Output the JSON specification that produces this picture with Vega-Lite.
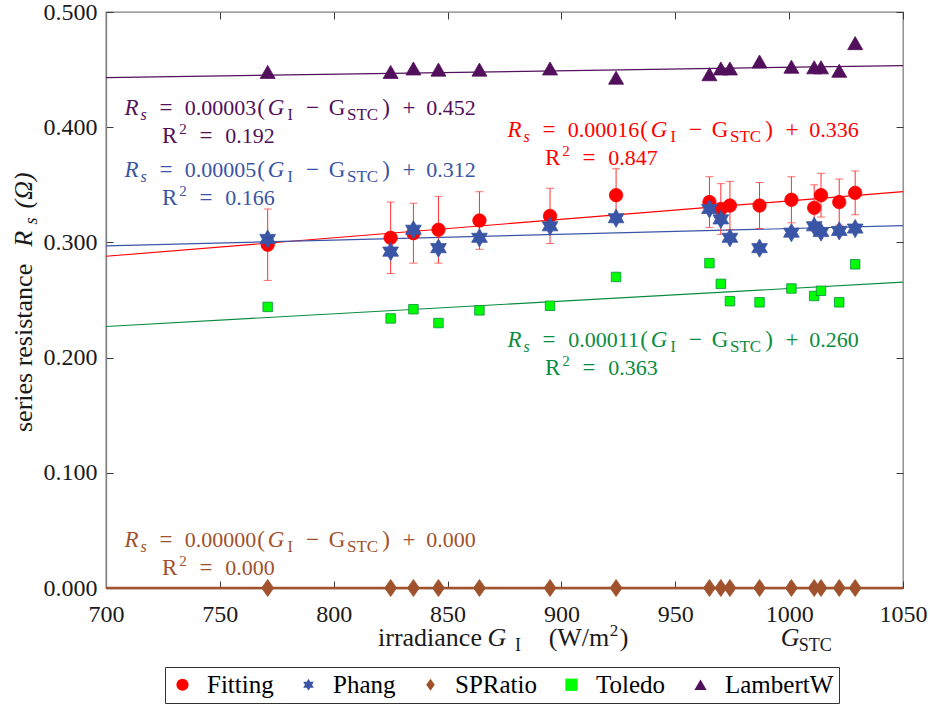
{
  "$schema": "https://vega.github.io/schema/vega-lite/v6.json",
  "width": 797,
  "height": 576,
  "autosize": {"type": "none"},
  "padding": {"left": 106, "top": 12, "right": 27, "bottom": 119},
  "background": "white",
  "config": {
    "view": {"stroke": "#808080", "strokeWidth": 1.3},
    "font": "'Liberation Serif', 'DejaVu Serif', serif",
    "text": {"font": "'Liberation Serif', 'DejaVu Serif', serif"},
    "axis": {
      "grid": false,
      "title": null,
      "domainColor": "#808080",
      "domainWidth": 1.3,
      "tickColor": "#3a3a3a",
      "tickWidth": 1,
      "tickSize": -7,
      "labelFont": "'Liberation Serif', 'DejaVu Serif', serif",
      "labelFontSize": 24,
      "labelColor": "#1a1a1a",
      "labelFlush": false
    },
    "legend": {
      "labelFont": "'Liberation Serif', 'DejaVu Serif', serif"
    }
  },
  "datasets": {
    "fits": [
      {"method": "Fitting", "G": 700, "Rs": 0.288},
      {"method": "Fitting", "G": 1050, "Rs": 0.344},
      {"method": "Phang", "G": 700, "Rs": 0.297},
      {"method": "Phang", "G": 1050, "Rs": 0.3145},
      {"method": "SPRatio", "G": 700, "Rs": 0.0},
      {"method": "SPRatio", "G": 1050, "Rs": 0.0},
      {"method": "Toledo", "G": 700, "Rs": 0.227},
      {"method": "Toledo", "G": 1050, "Rs": 0.2655},
      {"method": "LambertW", "G": 700, "Rs": 0.443},
      {"method": "LambertW", "G": 1050, "Rs": 0.4535}
    ],
    "obs": [
      {"method": "Fitting", "G": 771, "Rs": 0.298, "err": 0.031},
      {"method": "Fitting", "G": 825, "Rs": 0.304, "err": 0.031},
      {"method": "Fitting", "G": 835, "Rs": 0.308, "err": 0.026},
      {"method": "Fitting", "G": 846, "Rs": 0.311, "err": 0.029},
      {"method": "Fitting", "G": 864, "Rs": 0.319, "err": 0.025},
      {"method": "Fitting", "G": 895, "Rs": 0.323, "err": 0.024},
      {"method": "Fitting", "G": 924, "Rs": 0.341, "err": 0.023},
      {"method": "Fitting", "G": 965, "Rs": 0.335, "err": 0.022},
      {"method": "Fitting", "G": 970, "Rs": 0.329, "err": 0.022},
      {"method": "Fitting", "G": 974, "Rs": 0.332, "err": 0.021},
      {"method": "Fitting", "G": 987, "Rs": 0.332, "err": 0.02},
      {"method": "Fitting", "G": 1001, "Rs": 0.337, "err": 0.02},
      {"method": "Fitting", "G": 1011, "Rs": 0.33, "err": 0.02},
      {"method": "Fitting", "G": 1014, "Rs": 0.341, "err": 0.019},
      {"method": "Fitting", "G": 1022, "Rs": 0.335, "err": 0.02},
      {"method": "Fitting", "G": 1029, "Rs": 0.343, "err": 0.019},
      {"method": "Phang", "G": 771, "Rs": 0.303},
      {"method": "Phang", "G": 825, "Rs": 0.292},
      {"method": "Phang", "G": 835, "Rs": 0.311},
      {"method": "Phang", "G": 846, "Rs": 0.295},
      {"method": "Phang", "G": 864, "Rs": 0.304},
      {"method": "Phang", "G": 895, "Rs": 0.314},
      {"method": "Phang", "G": 924, "Rs": 0.321},
      {"method": "Phang", "G": 965, "Rs": 0.329},
      {"method": "Phang", "G": 970, "Rs": 0.32},
      {"method": "Phang", "G": 974, "Rs": 0.304},
      {"method": "Phang", "G": 987, "Rs": 0.295},
      {"method": "Phang", "G": 1001, "Rs": 0.3085},
      {"method": "Phang", "G": 1011, "Rs": 0.314},
      {"method": "Phang", "G": 1014, "Rs": 0.309},
      {"method": "Phang", "G": 1022, "Rs": 0.31},
      {"method": "Phang", "G": 1029, "Rs": 0.312},
      {"method": "SPRatio", "G": 771, "Rs": 0.0},
      {"method": "SPRatio", "G": 825, "Rs": 0.0},
      {"method": "SPRatio", "G": 835, "Rs": 0.0},
      {"method": "SPRatio", "G": 846, "Rs": 0.0},
      {"method": "SPRatio", "G": 864, "Rs": 0.0},
      {"method": "SPRatio", "G": 895, "Rs": 0.0},
      {"method": "SPRatio", "G": 924, "Rs": 0.0},
      {"method": "SPRatio", "G": 965, "Rs": 0.0},
      {"method": "SPRatio", "G": 970, "Rs": 0.0},
      {"method": "SPRatio", "G": 974, "Rs": 0.0},
      {"method": "SPRatio", "G": 987, "Rs": 0.0},
      {"method": "SPRatio", "G": 1001, "Rs": 0.0},
      {"method": "SPRatio", "G": 1011, "Rs": 0.0},
      {"method": "SPRatio", "G": 1014, "Rs": 0.0},
      {"method": "SPRatio", "G": 1022, "Rs": 0.0},
      {"method": "SPRatio", "G": 1029, "Rs": 0.0},
      {"method": "Toledo", "G": 771, "Rs": 0.244},
      {"method": "Toledo", "G": 825, "Rs": 0.234},
      {"method": "Toledo", "G": 835, "Rs": 0.242},
      {"method": "Toledo", "G": 846, "Rs": 0.23},
      {"method": "Toledo", "G": 864, "Rs": 0.241},
      {"method": "Toledo", "G": 895, "Rs": 0.245},
      {"method": "Toledo", "G": 924, "Rs": 0.27},
      {"method": "Toledo", "G": 965, "Rs": 0.282},
      {"method": "Toledo", "G": 970, "Rs": 0.264},
      {"method": "Toledo", "G": 974, "Rs": 0.249},
      {"method": "Toledo", "G": 987, "Rs": 0.248},
      {"method": "Toledo", "G": 1001, "Rs": 0.26},
      {"method": "Toledo", "G": 1011, "Rs": 0.2535},
      {"method": "Toledo", "G": 1014, "Rs": 0.258},
      {"method": "Toledo", "G": 1022, "Rs": 0.248},
      {"method": "Toledo", "G": 1029, "Rs": 0.281},
      {"method": "LambertW", "G": 771, "Rs": 0.448},
      {"method": "LambertW", "G": 825, "Rs": 0.448},
      {"method": "LambertW", "G": 835, "Rs": 0.451},
      {"method": "LambertW", "G": 846, "Rs": 0.45},
      {"method": "LambertW", "G": 864, "Rs": 0.45},
      {"method": "LambertW", "G": 895, "Rs": 0.451},
      {"method": "LambertW", "G": 924, "Rs": 0.443},
      {"method": "LambertW", "G": 965, "Rs": 0.446},
      {"method": "LambertW", "G": 970, "Rs": 0.451},
      {"method": "LambertW", "G": 974, "Rs": 0.451},
      {"method": "LambertW", "G": 987, "Rs": 0.457},
      {"method": "LambertW", "G": 1001, "Rs": 0.4525},
      {"method": "LambertW", "G": 1011, "Rs": 0.452},
      {"method": "LambertW", "G": 1014, "Rs": 0.452},
      {"method": "LambertW", "G": 1022, "Rs": 0.449},
      {"method": "LambertW", "G": 1029, "Rs": 0.473}
    ],
    "eqs": [
      {"method": "LambertW", "G": 707.5, "Rs": 0.4106, "slope": "0.00003", "icpt": "0.452", "r2": "0.192"},
      {"method": "Phang", "G": 707.5, "Rs": 0.3568, "slope": "0.00005", "icpt": "0.312", "r2": "0.166"},
      {"method": "Fitting", "G": 875.7, "Rs": 0.3918, "slope": "0.00016", "icpt": "0.336", "r2": "0.847"},
      {"method": "Toledo", "G": 875.7, "Rs": 0.2092, "slope": "0.00011", "icpt": "0.260", "r2": "0.363"},
      {"method": "SPRatio", "G": 707.5, "Rs": 0.036, "slope": "0.00000", "icpt": "0.000", "r2": "0.000"}
    ],
    "xtitle": [{"G": 819, "Rs": -0.05}],
    "gstc": [{"G": 1000, "Rs": -0.05}],
    "ytitle": [{"G": 667.5, "Rs": 0.132}]
  },
  "resolve": {"axis": {"x": "independent", "y": "independent"}},
  "layer": [
    {
      "data": {"name": "fits"},
      "mark": {"type": "line"},
      "encoding": {
        "x": {
          "field": "G", "type": "quantitative",
          "scale": {"domain": [700, 1050], "nice": false, "zero": false},
          "axis": {"orient": "bottom", "values": [700, 750, 800, 850, 900, 950, 1000, 1050], "format": "d", "labelPadding": 21}
        },
        "y": {
          "field": "Rs", "type": "quantitative",
          "scale": {"domain": [0, 0.5], "nice": false, "zero": false},
          "axis": {"orient": "left", "values": [0, 0.1, 0.2, 0.3, 0.4, 0.5], "format": ".3f", "labelPadding": 16}
        },
        "detail": {"field": "method"},
        "stroke": {
          "field": "method", "type": "nominal", "legend": null,
          "scale": {"domain": ["LambertW", "Toledo", "SPRatio", "Phang", "Fitting"], "range": ["#520f5c", "#0a8c3f", "#a0522d", "#3a55a5", "#ff0000"]}
        },
        "strokeWidth": {"condition": {"test": "datum.method === 'SPRatio'", "value": 2.5}, "value": 1.2}
      }
    },
    {
      "data": {"name": "obs"},
      "transform": [{"filter": "datum.method === 'Fitting'"}],
      "mark": {"type": "errorbar", "color": "#ff3030", "thickness": 1, "ticks": {"size": 8, "color": "#ff3030"}},
      "encoding": {
        "x": {"field": "G", "type": "quantitative", "axis": null},
        "y": {"field": "Rs", "type": "quantitative", "axis": null},
        "yError": {"field": "err"}
      }
    },
    {
      "data": {"name": "obs"},
      "mark": {"type": "point", "filled": true, "opacity": 1, "strokeWidth": 0.8},
      "encoding": {
        "x": {
          "field": "G", "type": "quantitative",
          "axis": {"orient": "top", "labels": false, "domain": false, "values": [700, 750, 800, 850, 900, 950, 1000, 1050]}
        },
        "y": {
          "field": "Rs", "type": "quantitative",
          "axis": {"orient": "right", "labels": false, "domain": false, "values": [0, 0.1, 0.2, 0.3, 0.4, 0.5]}
        },
        "fill": {
          "field": "method", "type": "nominal",
          "scale": {"domain": ["Fitting", "Phang", "SPRatio", "Toledo", "LambertW"], "range": ["#ff0000", "#3a55a5", "#a0522d", "#00ff00", "#520f5c"]},
          "legend": {
            "orient": "none", "legendX": 59, "legendY": 655, "direction": "horizontal", "title": null,
            "strokeColor": "#333333", "fillColor": "white", "padding": 5,
            "labelFontSize": 25, "labelColor": "black",
            "symbolSize": 150, "labelOffset": 12, "columnPadding": 22, "symbolStrokeWidth": 0
          }
        },
        "shape": {
          "field": "method", "type": "nominal",
          "scale": {
            "domain": ["Fitting", "Phang", "SPRatio", "Toledo", "LambertW"],
            "range": [
              "circle",
              "M0,-1L0.289,-0.5L0.866,-0.5L0.577,0L0.866,0.5L0.289,0.5L0,1L-0.289,0.5L-0.866,0.5L-0.577,0L-0.866,-0.5L-0.289,-0.5Z",
              "M0,-1L0.7,0L0,1L-0.7,0Z",
              "square",
              "M0,-0.87L1,0.87L-1,0.87Z"
            ]
          }
        },
        "stroke": {"field": "method", "type": "nominal", "legend": null},
        "size": {
          "field": "method", "type": "nominal", "legend": null,
          "scale": {"type": "ordinal", "domain": ["Phang", "Fitting", "LambertW", "SPRatio", "Toledo"], "range": [330, 180, 225, 289, 90]}
        }
      }
    },
    {
      "data": {"name": "eqs"},
      "encoding": {
        "x": {"field": "G", "type": "quantitative", "axis": null},
        "y": {"field": "Rs", "type": "quantitative", "axis": null},
        "color": {
          "field": "method", "type": "nominal", "legend": null,
          "scale": {"domain": ["Toledo", "SPRatio", "Phang", "LambertW", "Fitting"], "range": ["#0a8c3f", "#a0522d", "#3a55a5", "#520f5c", "#ff0000"]}
        }
      },
      "layer": [
        {"mark": {"type": "text", "text": "R", "fontStyle": "italic", "fontSize": 23, "align": "center", "baseline": "alphabetic", "dx": 8.5}},
        {"mark": {"type": "text", "text": "s", "fontStyle": "italic", "fontSize": 16, "align": "center", "baseline": "alphabetic", "dx": 20.5, "dy": 5}},
        {"mark": {"type": "text", "text": "=", "fontSize": 23, "align": "center", "baseline": "alphabetic", "dx": 43}},
        {"mark": {"type": "text", "fontSize": 22, "align": "center", "baseline": "alphabetic", "dx": 97.5}, "encoding": {"text": {"field": "slope"}}},
        {"mark": {"type": "text", "text": "(", "fontSize": 23, "align": "center", "baseline": "alphabetic", "dx": 138}},
        {"mark": {"type": "text", "text": "G", "fontStyle": "italic", "fontSize": 23, "align": "center", "baseline": "alphabetic", "dx": 153}},
        {"mark": {"type": "text", "text": "I", "fontSize": 16, "align": "center", "baseline": "alphabetic", "dx": 167, "dy": 5}},
        {"mark": {"type": "text", "text": "−", "fontSize": 23, "align": "center", "baseline": "alphabetic", "dx": 189.5}},
        {"mark": {"type": "text", "text": "G", "fontSize": 23, "align": "center", "baseline": "alphabetic", "dx": 214}},
        {"mark": {"type": "text", "text": "STC", "fontSize": 17, "align": "center", "baseline": "alphabetic", "dx": 239.5, "dy": 5}},
        {"mark": {"type": "text", "text": ")", "fontSize": 23, "align": "center", "baseline": "alphabetic", "dx": 263}},
        {"mark": {"type": "text", "text": "+", "fontSize": 23, "align": "center", "baseline": "alphabetic", "dx": 286}},
        {"mark": {"type": "text", "fontSize": 22, "align": "center", "baseline": "alphabetic", "dx": 328}, "encoding": {"text": {"field": "icpt"}}},
        {"mark": {"type": "text", "text": "R", "fontSize": 23, "align": "center", "baseline": "alphabetic", "dx": 46.5, "dy": 28}},
        {"mark": {"type": "text", "text": "2", "fontSize": 15, "align": "center", "baseline": "alphabetic", "dx": 60, "dy": 19}},
        {"mark": {"type": "text", "text": "=", "fontSize": 23, "align": "center", "baseline": "alphabetic", "dx": 83, "dy": 28}},
        {"mark": {"type": "text", "fontSize": 22, "align": "center", "baseline": "alphabetic", "dx": 127, "dy": 28}, "encoding": {"text": {"field": "r2"}}}
      ]
    },
    {
      "data": {"name": "xtitle"},
      "encoding": {
        "x": {"field": "G", "type": "quantitative", "axis": null},
        "y": {"field": "Rs", "type": "quantitative", "axis": null}
      },
      "layer": [
        {"mark": {"type": "text", "text": "irradiance", "fontSize": 26, "color": "#1a1a1a", "align": "center", "baseline": "alphabetic", "dx": 53}},
        {"mark": {"type": "text", "text": "G", "fontStyle": "italic", "fontSize": 26, "color": "#1a1a1a", "align": "center", "baseline": "alphabetic", "dx": 120}},
        {"mark": {"type": "text", "text": "I", "fontSize": 18, "color": "#1a1a1a", "align": "center", "baseline": "alphabetic", "dx": 141, "dy": 5}},
        {"mark": {"type": "text", "text": "(W/m", "fontSize": 26, "color": "#1a1a1a", "align": "center", "baseline": "alphabetic", "dx": 202}},
        {"mark": {"type": "text", "text": "2", "fontSize": 17, "color": "#1a1a1a", "align": "center", "baseline": "alphabetic", "dx": 237, "dy": -10}},
        {"mark": {"type": "text", "text": ")", "fontSize": 26, "color": "#1a1a1a", "align": "center", "baseline": "alphabetic", "dx": 247}}
      ]
    },
    {
      "data": {"name": "gstc"},
      "encoding": {
        "x": {"field": "G", "type": "quantitative", "axis": null},
        "y": {"field": "Rs", "type": "quantitative", "axis": null}
      },
      "layer": [
        {"mark": {"type": "text", "text": "G", "fontStyle": "italic", "fontSize": 26, "color": "#1a1a1a", "align": "center", "baseline": "alphabetic", "dx": 1}},
        {"mark": {"type": "text", "text": "STC", "fontSize": 18, "color": "#1a1a1a", "align": "center", "baseline": "alphabetic", "dx": 26, "dy": 5}}
      ]
    },
    {
      "data": {"name": "ytitle"},
      "encoding": {
        "x": {"field": "G", "type": "quantitative", "axis": null},
        "y": {"field": "Rs", "type": "quantitative", "axis": null}
      },
      "layer": [
        {"mark": {"type": "text", "text": "series resistance", "angle": 270, "fontSize": 26, "color": "#1a1a1a", "align": "center", "baseline": "alphabetic", "dx": 88}},
        {"mark": {"type": "text", "text": "R", "angle": 270, "fontStyle": "italic", "fontSize": 26, "color": "#1a1a1a", "align": "center", "baseline": "alphabetic", "dx": 197}},
        {"mark": {"type": "text", "text": "s", "angle": 270, "fontStyle": "italic", "fontSize": 18, "color": "#1a1a1a", "align": "center", "baseline": "alphabetic", "dx": 215, "dy": 5}},
        {"mark": {"type": "text", "text": "(Ω)", "angle": 270, "fontStyle": "italic", "fontSize": 26, "color": "#1a1a1a", "align": "center", "baseline": "alphabetic", "dx": 245.5}}
      ]
    }
  ]
}
